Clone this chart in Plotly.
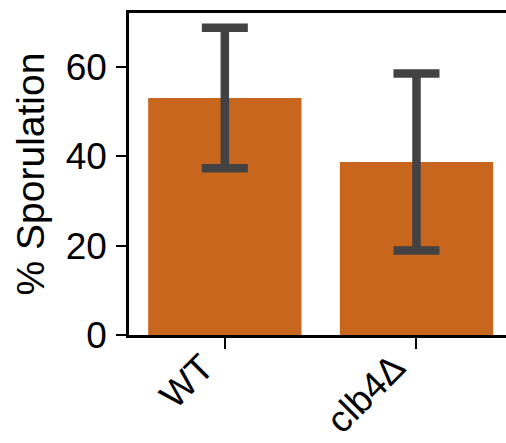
import plotly.graph_objects as go

categories = ["WT", "clb4Δ"]
sporulation = [53.0, 38.7]
error = [15.7, 19.8]
y_ticks = [0, 20, 40, 60]

fig = go.Figure()
fig.add_trace(go.Bar(
    x=categories,
    y=sporulation,
    marker=dict(color="#C8661E", line=dict(width=0)),
    error_y=dict(type="data", array=error, visible=True,
                 color="#424242", thickness=8.5, width=23),
))

font_family = "Liberation Sans, Arial, sans-serif"
fig.update_layout(
    width=506, height=443,
    margin=dict(l=129, r=0, t=13, b=108, autoexpand=False),
    paper_bgcolor="white", plot_bgcolor="white",
    bargap=0.2,
    showlegend=False,
    font=dict(family=font_family, color="black", size=37),
)
fig.update_xaxes(
    range=[-0.5, 1.467],
    showline=True, linecolor="black", linewidth=2.5, mirror=True,
    ticks="outside", ticklen=11, tickwidth=2, tickcolor="black",
    tickangle=-45, tickfont=dict(size=37),
    ticklabelstandoff=-18, ticklabelshift=-22,
    showgrid=False, zeroline=False, automargin=False,
)
fig.update_yaxes(
    range=[0, 72],
    tickvals=y_ticks,
    showline=True, linecolor="black", linewidth=2.5,
    ticks="outside", ticklen=10, tickwidth=2, tickcolor="black",
    tickfont=dict(size=37),
    ticklabelstandoff=2,
    title=dict(text="% Sporulation", font=dict(size=39), standoff=10),
    showgrid=False, zeroline=False, automargin=False,
)
fig.write_html(
    "out.html",
    config={"displayModeBar": False},
    post_script="document.body.style.margin='0';document.body.style.overflow='hidden';",
)
